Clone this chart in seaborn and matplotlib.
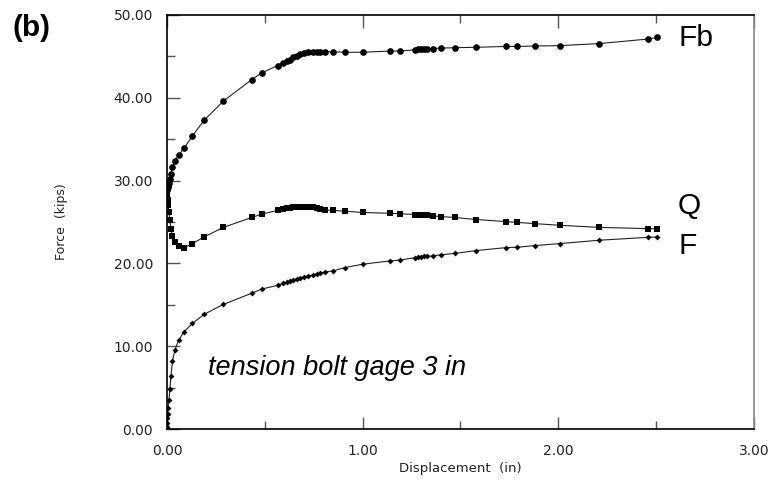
import numpy as np
import pandas as pd
import seaborn as sns
import matplotlib.pyplot as plt
from matplotlib.ticker import MultipleLocator, FormatStrFormatter

# displacement (in), shared by the three measured curves
disp = [0.000, 0.001, 0.002, 0.003, 0.005, 0.010, 0.015, 0.020, 0.028, 0.041, 0.059, 0.087,
        0.130, 0.190, 0.288, 0.433, 0.484, 0.565, 0.595, 0.612, 0.628, 0.645, 0.662, 0.680,
        0.700, 0.720, 0.748, 0.765, 0.780, 0.807, 0.850, 0.910, 1.000, 1.140, 1.190, 1.270,
        1.285, 1.300, 1.315, 1.330, 1.357, 1.400, 1.470, 1.580, 1.730, 1.790, 1.880, 2.010,
        2.210, 2.460, 2.505]

# bolt force Fb (kips)
force_fb = [28.9, 29.0, 29.1, 29.2, 29.4, 29.7, 30.2, 30.8, 31.7, 32.4, 33.1, 33.9,
            35.4, 37.3, 39.6, 42.2, 43.0, 43.9, 44.2, 44.4, 44.6, 44.9, 45.1, 45.3,
            45.45, 45.55, 45.55, 45.55, 45.55, 45.55, 45.55, 45.5, 45.5, 45.65, 45.65, 45.8,
            45.85, 45.85, 45.9, 45.9, 45.95, 46.0, 46.05, 46.1, 46.2, 46.2, 46.25, 46.3,
            46.55, 47.1, 47.3]

# prying force Q (kips)
force_q = [28.6, 28.4, 28.0, 27.6, 27.0, 26.2, 25.2, 24.2, 23.3, 22.55, 22.1, 21.9,
           22.4, 23.2, 24.35, 25.55, 25.95, 26.4, 26.55, 26.65, 26.75, 26.8, 26.85, 26.85,
           26.85, 26.85, 26.8, 26.7, 26.6, 26.45, 26.4, 26.3, 26.15, 26.05, 26.0, 25.9,
           25.9, 25.85, 25.85, 25.8, 25.75, 25.65, 25.55, 25.3, 25.05, 24.95, 24.8, 24.6,
           24.35, 24.2, 24.2]

# applied force F (kips)
force_f = [0.3, 0.7, 1.3, 1.8, 2.5, 3.5, 4.8, 6.4, 8.2, 9.6, 10.7, 11.75,
           12.75, 13.85, 15.05, 16.4, 16.9, 17.35, 17.6, 17.7, 17.85, 18.0, 18.1, 18.25,
           18.35, 18.45, 18.6, 18.75, 18.8, 18.95, 19.1, 19.5, 19.9, 20.3, 20.4, 20.7,
           20.75, 20.8, 20.85, 20.85, 20.9, 21.05, 21.2, 21.55, 21.9, 21.95, 22.15, 22.4,
           22.8, 23.15, 23.2]

series_names = ['Fb', 'Q', 'F']

sns.set_style('ticks')
plt.rcParams['font.family'] = ['DejaVu Sans']

fig = plt.figure(figsize=(7.78, 4.86), dpi=100)
ax = fig.add_axes([167/778, 1 - 429/486, 587/778, 414/486])

df = pd.DataFrame({'disp': disp, 'Fb': force_fb, 'Q': force_q, 'F': force_f})

# one call per curve, each with its own marker shape
styles = {'Fb': dict(marker='o', markersize=4.8),
          'Q': dict(marker='s', markersize=4.4),
          'F': dict(marker='D', markersize=3.0)}
for name in series_names:
    sns.lineplot(data=df, x='disp', y=name, ax=ax, color='#222222', linewidth=0.8,
                 estimator=None, sort=False, markeredgewidth=0, markerfacecolor='black',
                 **styles[name])

ax.set_xlim(0, 3)
ax.set_ylim(0, 50)
ax.xaxis.set_major_locator(MultipleLocator(1))
ax.xaxis.set_minor_locator(MultipleLocator(0.5))
ax.yaxis.set_major_locator(MultipleLocator(10))
ax.yaxis.set_minor_locator(MultipleLocator(5))
ax.xaxis.set_major_formatter(FormatStrFormatter('%.2f'))
ax.yaxis.set_major_formatter(FormatStrFormatter('%.2f'))
ax.tick_params(which='both', direction='in', top=True, right=False, color='#555555', width=1)
ax.tick_params(which='major', length=9, labelsize=10, labelcolor='#222222')
ax.tick_params(which='minor', length=6)
ax.tick_params(axis='x', which='major', pad=11)
ax.tick_params(axis='y', which='major', pad=10)

for side in ['left', 'bottom', 'top']:
    ax.spines[side].set_color('black')
    ax.spines[side].set_linewidth(1.2)
ax.spines['right'].set_color('#888888')
ax.spines['right'].set_linewidth(1.2)

ax.set_xlabel('Displacement  (in)', fontsize=9.5, color='#222222')
ax.set_ylabel('Force  (kips)', fontsize=9, color='#222222')
ax.xaxis.set_label_coords(0.5, -0.08)
ax.yaxis.set_label_coords(-0.168, 0.5)

lab = dict(fontsize=21.5, family='Liberation Sans', va='center', ha='left', color='black')
ax.text(2.615, 47.2, 'Fb', **lab)
ax.text(2.61, 26.9, 'Q', **lab)
ax.text(2.615, 22.1, 'F', **lab)
ax.text(0.21, 7.4, 'tension bolt gage 3 in', fontsize=19.5, family='Liberation Sans',
        style='italic', va='center', ha='left', color='black')
fig.text(12/778, 1 - 28/486, '(b)', fontsize=21.5, fontweight='bold',
         family='Liberation Sans', va='center', ha='left', color='black')

fig.savefig('out.png', dpi=100)
